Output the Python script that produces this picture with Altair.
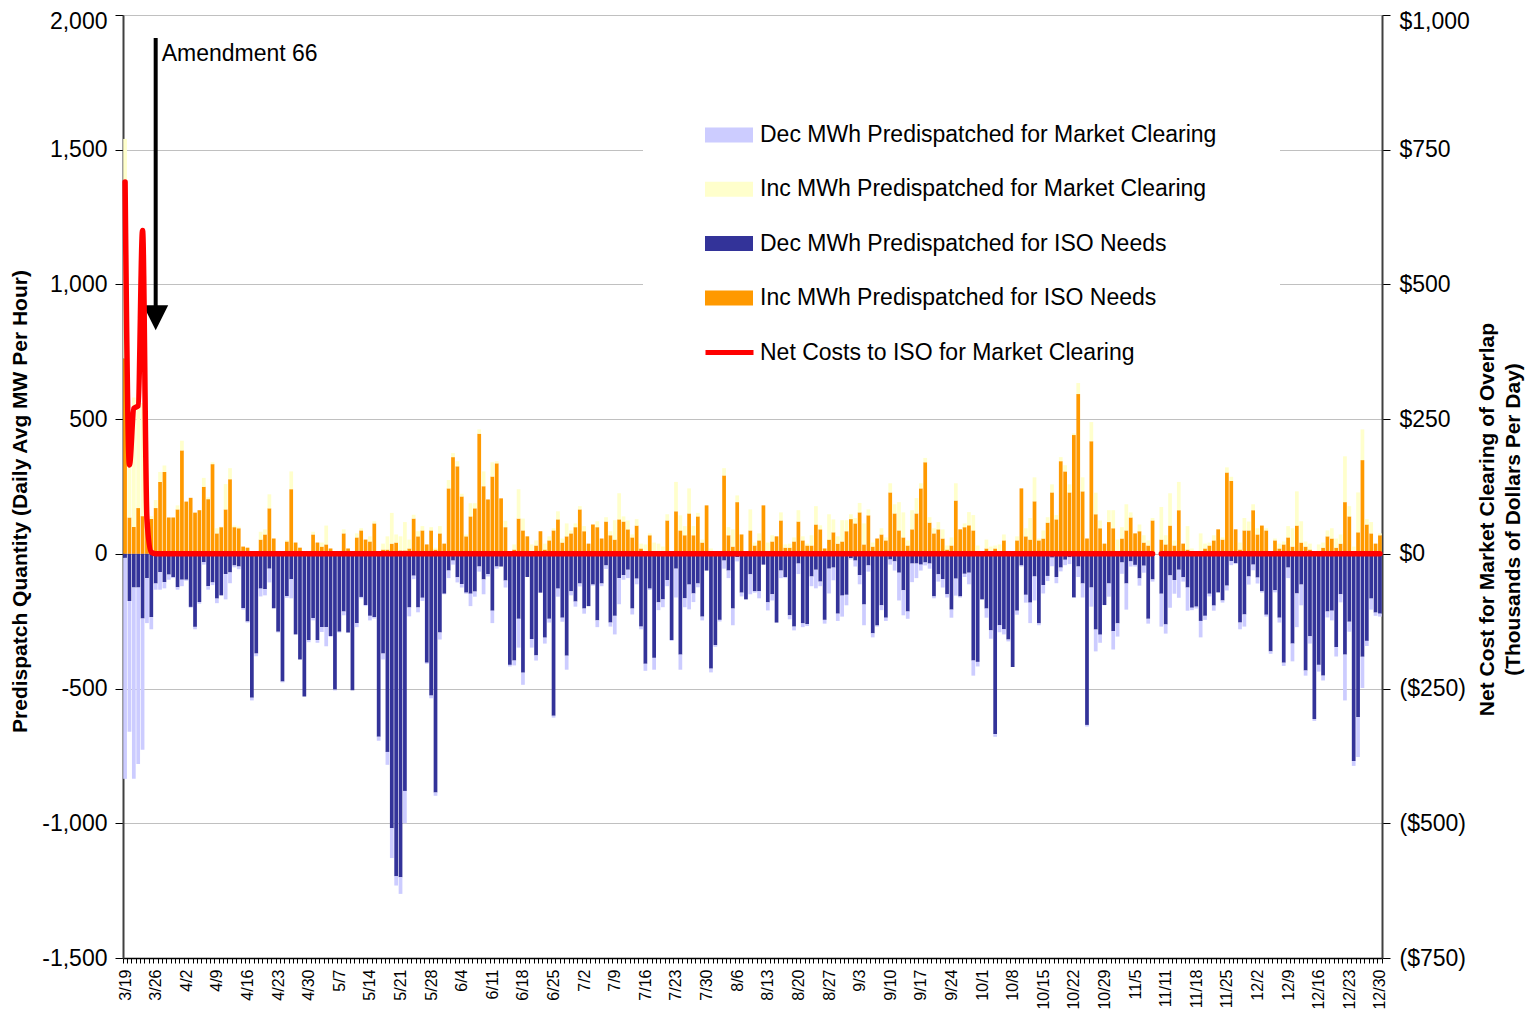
import json
import altair as alt
import pandas as pd

date_labels = ["3/19", "3/26", "4/2", "4/9", "4/16", "4/23", "4/30", "5/7", "5/14", "5/21",
               "5/28", "6/4", "6/11", "6/18", "6/25", "7/2", "7/9", "7/16", "7/23", "7/30",
               "8/6", "8/13", "8/20", "8/27", "9/3", "9/10", "9/17", "9/24", "10/1", "10/8",
               "10/15", "10/22", "10/29", "11/5", "11/11", "11/18", "11/25", "12/2", "12/9",
               "12/16", "12/23", "12/30"]

# Inc MWh predispatched for ISO needs (orange)
inc_iso = [725, 135, 100, 170, 140, 140, 130, 170, 267, 304,
           135, 135, 165, 384, 194, 208, 153, 162, 249, 203,
           333, 76, 99, 165, 277, 99, 95, 27, 23, 5,
           5, 53, 72, 169, 57, 0, 0, 46, 240, 42,
           23, 0, 0, 72, 42, 27, 35, 20, 0, 0,
           76, 20, 0, 61, 87, 53, 46, 113, 5, 16,
           16, 38, 42, 13, 13, 20, 131, 65, 87, 35,
           87, 16, 76, 38, 243, 359, 325, 213, 65, 139,
           169, 446, 251, 202, 287, 336, 206, 99, 0, 16,
           131, 87, 65, 5, 31, 84, 16, 50, 87, 128,
           42, 65, 76, 99, 165, 84, 38, 109, 99, 57,
           120, 69, 53, 128, 120, 91, 61, 105, 20, 5,
           69, 5, 5, 5, 124, 0, 158, 87, 69, 150,
           69, 139, 42, 180, 0, 0, 0, 291, 69, 27,
           192, 72, 0, 87, 31, 50, 180, 5, 46, 65,
           124, 23, 23, 46, 120, 50, 31, 31, 109, 91,
           20, 53, 80, 38, 46, 84, 129, 113, 154, 35,
           143, 27, 57, 72, 50, 228, 150, 87, 61, 31,
           91, 150, 243, 340, 116, 76, 91, 57, 16, 31,
           198, 91, 99, 106, 87, 0, 0, 20, 0, 20,
           0, 50, 0, 0, 50, 243, 65, 53, 195, 50,
           57, 116, 228, 128, 344, 306, 228, 441, 593, 232,
           57, 418, 147, 95, 38, 118, 95, 0, 57, 87,
           135, 76, 84, 42, 31, 124, None, 53, 35, 105,
           31, 162, 38, 16, 0, 0, 0, 20, 31, 50,
           91, 53, 302, 271, 91, 16, 87, 87, 162, 72,
           105, 87, 0, 50, 20, 35, 61, 27, 105, 42,
           27, 16, 0, 0, 23, 65, 57, 23, 38, 192,
           139, 0, 80, 348, 109, 76, 38, 69]

# top of the Inc stack (ISO + market clearing)
inc_top = [1540, 500, 580, 610, 560, 180, 140, 200, 304, 328,
           135, 135, 180, 420, 194, 208, 153, 162, 282, 210,
           340, 95, 101, 259, 318, 105, 101, 27, 23, 5,
           5, 82, 91, 221, 57, 0, 0, 51, 306, 42,
           23, 0, 0, 82, 42, 42, 105, 20, 0, 0,
           91, 20, 0, 76, 95, 53, 65, 121, 5, 38,
           65, 152, 72, 65, 118, 53, 145, 84, 103, 35,
           99, 23, 103, 38, 274, 374, 344, 223, 72, 188,
           188, 462, 306, 202, 340, 344, 206, 123, 0, 35,
           240, 131, 65, 35, 50, 84, 38, 65, 95, 158,
           57, 113, 87, 113, 177, 103, 38, 109, 121, 57,
           136, 84, 125, 225, 139, 124, 72, 129, 38, 35,
           76, 42, 38, 27, 147, 0, 267, 143, 103, 243,
           103, 152, 53, 180, 20, 0, 0, 318, 99, 91,
           217, 72, 0, 165, 42, 76, 180, 42, 69, 65,
           154, 35, 38, 61, 162, 65, 38, 69, 177, 106,
           20, 147, 128, 65, 125, 125, 147, 133, 189, 113,
           165, 42, 57, 95, 61, 262, 184, 192, 154, 50,
           162, 207, 262, 356, 136, 95, 118, 91, 31, 61,
           262, 91, 113, 155, 144, 31, 0, 53, 27, 31,
           35, 72, 0, 0, 65, 243, 95, 133, 284, 57,
           87, 136, 258, 144, 359, 329, 258, 447, 634, 284,
           57, 489, 227, 124, 38, 162, 162, 53, 99, 184,
           154, 76, 109, 69, 50, 133, None, 174, 69, 225,
           50, 267, 38, 103, 20, 0, 76, 38, 42, 69,
           91, 61, 321, 286, 91, 42, 133, 120, 184, 95,
           105, 95, 0, 57, 38, 46, 103, 95, 232, 121,
           46, 38, 5, 35, 42, 87, 95, 57, 72, 362,
           177, 27, 228, 462, 129, 118, 38, 76]

# Dec MWh predispatched for ISO needs (dark blue)
dec_iso = [-15, -175, -125, -125, -240, -90, -235, -110, -68, -105,
           -77, -87, -124, -96, -96, -197, -271, -179, -31, -120,
           -106, -166, -154, -75, -69, -43, -47, -201, -251, -534,
           -370, -129, -131, -55, -202, -289, -474, -157, -94, -299,
           -392, -529, -320, -238, -320, -272, -272, -305, -504, -289,
           -214, -292, -506, -257, -160, -190, -230, -235, -679, -370,
           -735, -1018, -1197, -1200, -880, -199, -81, -199, -163, -404,
           -526, -886, -292, -148, -62, -25, -87, -112, -144, -148,
           -140, -47, -95, -75, -211, -47, -47, -99, -412, -396,
           -241, -441, -86, -316, -377, -144, -311, -241, -601, -129,
           -237, -378, -139, -177, -110, -203, -194, -114, -247, -110,
           -43, -255, -230, -90, -79, -59, -203, -92, -270, -408,
           -129, -386, -180, -169, -97, -320, -55, -374, -165, -114,
           -147, -110, -233, -62, -426, -339, -245, -25, -62, -203,
           -12, -144, -169, -76, -139, -139, -40, -180, -150, -255,
           -62, -86, -228, -270, -36, -258, -261, -84, -59, -103,
           -245, -55, -51, -222, -155, -152, -16, -25, -79, -188,
           -43, -295, -266, -191, -237, -21, -28, -70, -135, -214,
           -36, -36, -40, -32, -36, -158, -76, -94, -150, -207,
           -92, -158, -74, -70, -396, -401, -169, -203, -284, -669,
           -265, -280, -318, -420, -211, -43, -152, -181, -84, -258,
           -116, -82, -14, -86, -51, -22, -13, -162, -47, -110,
           -635, -125, -281, -300, -190, -110, -287, -258, -32, -110,
           -28, -41, -91, -44, -241, -95, None, -148, -262, -80,
           -97, -59, -87, -125, -200, -196, -249, -230, -148, -192,
           -143, -173, -118, -27, -35, -255, -225, -84, -40, -88,
           -139, -226, -362, -135, -237, -404, -51, -333, -147, -114,
           -433, -306, -613, -412, -452, -214, -211, -346, -150, -374,
           -252, -769, -606, -382, -323, -166, -218, -222]

# bottom of the Dec stack (ISO + market clearing)
dec_bottom = [-835, -660, -835, -780, -727, -257, -280, -133, -133, -128,
              -96, -90, -133, -120, -100, -200, -280, -185, -40, -133,
              -116, -183, -154, -169, -109, -50, -57, -207, -255, -544,
              -380, -158, -154, -106, -202, -292, -477, -163, -165, -299,
              -392, -529, -328, -247, -330, -290, -343, -308, -507, -292,
              -228, -292, -506, -272, -165, -194, -247, -240, -694, -392,
              -783, -1129, -1231, -1262, -1000, -232, -94, -217, -175, -408,
              -536, -898, -318, -150, -90, -40, -106, -125, -148, -194,
              -159, -66, -150, -84, -257, -55, -47, -125, -418, -414,
              -348, -486, -86, -348, -396, -144, -333, -255, -608, -159,
              -252, -430, -154, -196, -121, -222, -194, -118, -272, -120,
              -56, -270, -299, -187, -96, -90, -225, -113, -280, -434,
              -134, -430, -209, -198, -120, -323, -162, -430, -198, -206,
              -179, -124, -247, -62, -440, -345, -251, -55, -90, -265,
              -28, -158, -169, -150, -144, -165, -40, -210, -173, -255,
              -90, -90, -243, -284, -75, -272, -268, -120, -128, -120,
              -259, -147, -98, -249, -233, -191, -21, -47, -113, -265,
              -66, -310, -270, -209, -249, -40, -62, -173, -228, -241,
              -105, -90, -62, -43, -55, -165, -103, -125, -162, -237,
              -155, -162, -86, -113, -452, -418, -169, -237, -315, -679,
              -291, -299, -325, -420, -226, -47, -181, -257, -173, -265,
              -147, -101, -46, -109, -65, -42, -38, -163, -86, -162,
              -641, -196, -362, -330, -190, -159, -355, -307, -74, -207,
              -47, -47, -118, -70, -259, -103, None, -270, -296, -200,
              -148, -163, -103, -211, -209, -203, -310, -245, -158, -211,
              -143, -181, -136, -42, -38, -280, -270, -114, -61, -110,
              -144, -233, -371, -143, -255, -416, -90, -399, -272, -191,
              -452, -333, -620, -437, -470, -236, -247, -381, -180, -544,
              -289, -787, -754, -498, -342, -207, -230, -233]

# Net costs to ISO for market clearing (thousands of dollars per day)
net_cost = [690, 165, 270, 275, 600, 65, 3] + [0] * 229 + [None] + [0] * 51

series_names = ["Dec MWh Predispatched for Market Clearing",
                "Inc MWh Predispatched for Market Clearing",
                "Dec MWh Predispatched for ISO Needs",
                "Inc MWh Predispatched for ISO Needs"]
series_colors = ["#CCCCFF", "#FFFFCC", "#333399", "#FF9900"]
line_name = "Net Costs to ISO for Market Clearing"

n = len(inc_iso)
rows = []
for i in range(n):
    if inc_iso[i] is None:
        continue
    rows.append({"idx": i, "series": series_names[3], "value": inc_iso[i], "ord": 0})
    rows.append({"idx": i, "series": series_names[1], "value": max(inc_top[i] - inc_iso[i], 0), "ord": 1})
    rows.append({"idx": i, "series": series_names[2], "value": dec_iso[i], "ord": 0})
    rows.append({"idx": i, "series": series_names[0], "value": min(dec_bottom[i] - dec_iso[i], 0), "ord": 1})
bars_df = pd.DataFrame(rows)

line_df = pd.DataFrame({"idx": list(range(n)), "cost": net_cost, "name": [line_name] * n})

ann_df = pd.DataFrame({"idx": [7], "top": [1915], "base": [900], "head": [876],
                       "ty": [1856], "label": ["Amendment 66"]})
box_df = pd.DataFrame({"a": [0]})

FONT = "Liberation Sans"

label_expr = "datum.value % 7 == 0 ? " + json.dumps(date_labels) + "[datum.value / 7] : ''"
xscale = alt.Scale(domain=list(range(n)), paddingInner=0.15, paddingOuter=0.05)
xaxis = alt.Axis(values=list(range(n)), labelExpr=label_expr, labelAngle=270,
                 labelFontSize=16, labelColor="black", labelOverlap=False, labelPadding=6,
                 tickBand="extent", tickSize=5, tickColor="black", domainColor="black",
                 domainWidth=1.5, title=None, grid=False, labelBound=False)
xenc = alt.X("idx:O", scale=xscale, axis=xaxis)

yscale = alt.Scale(domain=[-1500, 2000], nice=False, zero=False)
yaxis = alt.Axis(values=[-1500, -1000, -500, 0, 500, 1000, 1500, 2000],
                 labelExpr="(datum.value < 0 ? '-' : '') + format(abs(datum.value), ',')",
                 labelOffset={"condition": {"test": "datum.value == 2000", "value": 6}, "value": 0},
                 grid=True, gridColor="#C0C0C0", gridWidth=1,
                 tickSize=8, tickColor="black", domainColor="#404040", domainWidth=2,
                 labelFontSize=23, labelColor="black", labelPadding=8,
                 title="Predispatch Quantity (Daily Avg MW Per Hour)",
                 titleFontSize=21, titleFontWeight="bold", titleColor="black",
                 titleAngle=270, titleX=-103, titleY=486, titleBaseline="middle",
                 titleAlign="center")

box = alt.Chart(box_df).mark_rect(color="white").encode(
    x=alt.value(520), x2=alt.value(1157), y=alt.value(85), y2=alt.value(362))

bars = alt.Chart(bars_df).mark_bar().encode(
    x=xenc,
    y=alt.Y("value:Q", scale=yscale, axis=yaxis, stack="zero"),
    color=alt.Color("series:N",
                    scale=alt.Scale(domain=series_names, range=series_colors),
                    legend=alt.Legend(orient="none", legendX=582, legendY=96, title=None,
                                      symbolType="M-1,-0.3125H1V0.3125H-1Z", symbolSize=2304,
                                      symbolStrokeWidth=0, symbolOpacity=1,
                                      labelFontSize=23, labelFont=FONT, labelColor="black",
                                      labelOffset=7, labelLimit=800, rowPadding=18.3,
                                      padding=0, offset=0)),
    order=alt.Order("ord:Q"),
)

rule = alt.Chart(ann_df).mark_rule(color="black", strokeWidth=4).encode(
    x=xenc,
    y=alt.Y("top:Q", scale=yscale, axis=yaxis),
    y2="base:Q")

head = alt.Chart(ann_df).mark_point(shape="M0,1L1,-1L-1,-1Z", filled=True, color="black",
                                    size=625, opacity=1).encode(
    x=xenc,
    y=alt.Y("head:Q", scale=yscale, axis=yaxis))

text = alt.Chart(ann_df).mark_text(align="left", baseline="middle", dx=6, fontSize=23,
                                   font=FONT, color="black").encode(
    x=xenc,
    y=alt.Y("ty:Q", scale=yscale, axis=yaxis),
    text="label:N")

left = alt.layer(box, bars, rule, head, text)

right_axis = alt.Axis(orient="right", values=[-750, -500, -250, 0, 250, 500, 750, 1000],
                      labelExpr="datum.value < 0 ? '($' + format(-datum.value, ',') + ')' : '$' + format(datum.value, ',')",
                      labelOffset={"condition": {"test": "datum.value == 1000", "value": 6}, "value": 0},
                      grid=False, tickSize=8, tickColor="black", domainColor="#404040",
                      domainWidth=2, labelFontSize=23, labelColor="black", labelPadding=9,
                      title=["Net Cost for Market Clearing of Overlap", "(Thousands of Dollars Per Day)"],
                      titleFontSize=21, titleFontWeight="bold", titleColor="black",
                      titleAngle=270, titleX=105, titleY=504, titleBaseline="middle",
                      titleAlign="center", titleLineHeight=26)

line = alt.Chart(line_df).mark_line(strokeWidth=5.5, interpolate="monotone", strokeCap="round",
                                    strokeJoin="round",
                                    invalid="break-paths-show-domains").encode(
    x=xenc,
    y=alt.Y("cost:Q", scale=alt.Scale(domain=[-750, 1000], nice=False, zero=False), axis=right_axis),
    color=alt.Color("name:N", scale=alt.Scale(domain=[line_name], range=["#FF0000"]),
                    legend=alt.Legend(orient="none", legendX=580, legendY=311, title=None,
                                      symbolType="stroke", symbolSize=2304, symbolStrokeWidth=5,
                                      labelFontSize=23, labelFont=FONT, labelColor="black",
                                      labelOffset=4, labelLimit=800, padding=0, offset=0)),
)

chart = alt.layer(left, line).resolve_scale(y="independent", color="independent").properties(
    width=1259, height=943,
    autosize=alt.AutoSizeParams(type="none"),
    padding={"left": 115, "top": 7, "right": 147, "bottom": 52},
).configure(font=FONT).configure_view(stroke="#808080", strokeWidth=1)

chart.save("out.html", embed_options={"renderer": "svg", "actions": False})
